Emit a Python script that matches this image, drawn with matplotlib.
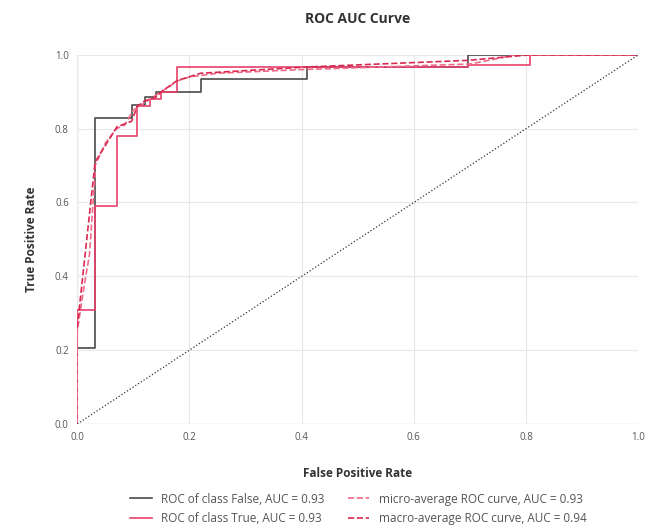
import numpy as np
import matplotlib
matplotlib.use("Agg")
import matplotlib.pyplot as plt

plt.rcParams['font.family'] = ['Open Sans', 'DejaVu Sans']

# ROC of class False (step corners)
false_fpr = [0, 0, 0.032, 0.032, 0.097, 0.097, 0.12, 0.12, 0.14, 0.14, 0.22, 0.22, 0.41, 0.41, 0.697, 0.697, 1.0]
false_tpr = [0, 0.205, 0.205, 0.83, 0.83, 0.865, 0.865, 0.885, 0.885, 0.90, 0.90, 0.935, 0.935, 0.967, 0.967, 1.0, 1.0]

# ROC of class True (step corners)
true_fpr = [0, 0, 0.032, 0.032, 0.071, 0.071, 0.107, 0.107, 0.13, 0.13, 0.15, 0.15, 0.178, 0.178, 0.697, 0.697, 0.807, 0.807, 1.0]
true_tpr = [0, 0.31, 0.31, 0.59, 0.59, 0.78, 0.78, 0.86, 0.86, 0.88, 0.88, 0.90, 0.90, 0.967, 0.967, 0.973, 0.973, 1.0, 1.0]

# micro-average ROC
micro_fpr = [0, 0, 0.005, 0.012, 0.022, 0.032, 0.032, 0.05, 0.07, 0.085, 0.1, 0.12, 0.14, 0.16, 0.18, 0.2, 0.25, 0.4, 0.5, 0.7, 0.75, 0.78, 1.0]
micro_tpr = [0, 0.25, 0.30, 0.37, 0.46, 0.68, 0.70, 0.76, 0.80, 0.81, 0.85, 0.87, 0.89, 0.91, 0.93, 0.94, 0.95, 0.96, 0.965, 0.975, 0.99, 1.0, 1.0]

# macro-average ROC
macro_fpr = [0, 0.032, 0.071, 0.097, 0.107, 0.12, 0.14, 0.15, 0.178, 0.22, 0.41, 0.697, 0.807, 1.0]
macro_tpr = [0.26, 0.71, 0.805, 0.82, 0.86, 0.875, 0.885, 0.90, 0.93, 0.95, 0.967, 0.985, 1.0, 1.0]

auc_false, auc_true, auc_micro, auc_macro = 0.93, 0.93, 0.93, 0.94

fig = plt.figure(figsize=(6.54, 5.32), dpi=100)
ax = fig.add_axes([0.118, 0.203, 0.858, 0.694])

ax.plot(false_fpr, false_tpr, color="#4a4a4a", lw=1.2,
        label=f"ROC of class False, AUC = {auc_false:.2f}")
ax.plot(true_fpr, true_tpr, color="#e8406a", lw=1.2,
        label=f"ROC of class True, AUC = {auc_true:.2f}")
ax.plot(micro_fpr, micro_tpr, color="#f06a88", lw=1.2, ls="--",
        label=f"micro-average ROC curve, AUC = {auc_micro:.2f}")
ax.plot(macro_fpr, macro_tpr, color="#d82a50", lw=1.2, ls="--",
        label=f"macro-average ROC curve, AUC = {auc_macro:.2f}")
ax.plot([0, 1], [0, 1], color="#333333", lw=0.9, ls=":")

ax.set_xlim(0, 1)
ax.set_ylim(0, 1)
ax.set_xticks(np.arange(0, 1.01, 0.2))
ax.set_yticks(np.arange(0, 1.01, 0.2))
ax.grid(color="#e8e8e8", lw=0.8)
ax.set_axisbelow(True)
for s in ax.spines.values():
    s.set_visible(False)
ax.axhline(0, color="#cfcfcf", lw=0.9, zorder=0.5)
ax.axvline(0, color="#cfcfcf", lw=0.9, zorder=0.5)
ax.tick_params(length=0, labelsize=7, labelcolor="#555555", pad=6)

ax.set_title("ROC AUC Curve", fontsize=10, fontweight="bold", color="#333333", pad=23)
ax.set_xlabel("False Positive Rate", fontsize=8.5, fontweight="bold", color="#333333", labelpad=17)
ax.set_ylabel("True Positive Rate", fontsize=8.5, fontweight="bold", color="#333333", labelpad=12)

fig.legend(loc="upper center", bbox_to_anchor=(0.548, 0.094), ncol=2, frameon=False,
           fontsize=8.5, labelcolor="#555555", columnspacing=2.0, handlelength=1.8,
           labelspacing=0.55)

fig.savefig("out.png", dpi=100, facecolor="white")
